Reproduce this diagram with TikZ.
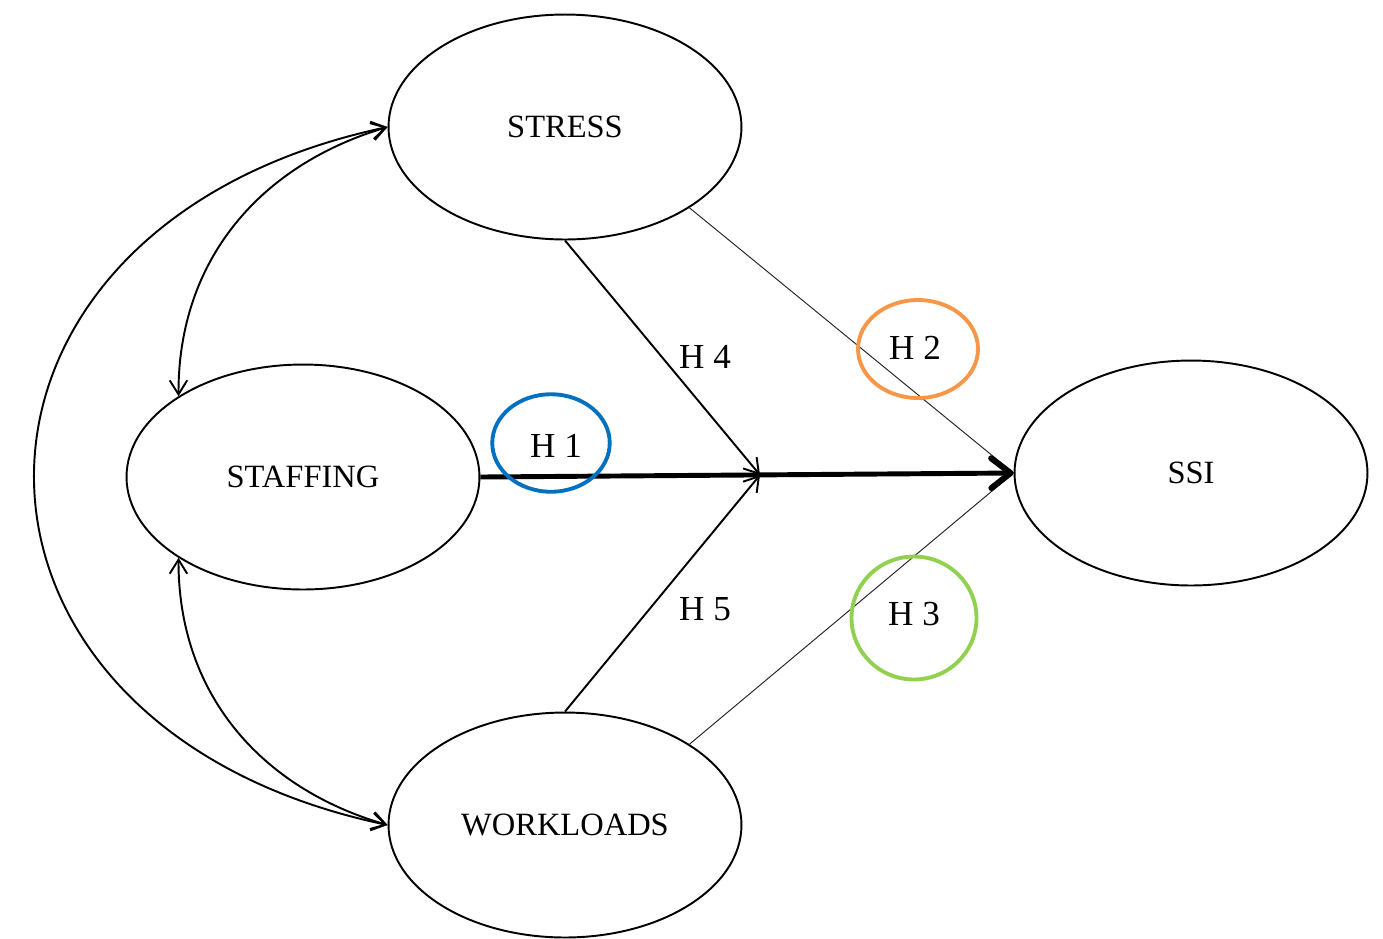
\documentclass[tikz,border=0pt]{standalone}
\usepackage{fontspec}
\setmainfont{Liberation Serif}
\usetikzlibrary{arrows.meta,shapes.geometric}
\begin{document}
\begin{tikzpicture}[x=0.02cm,y=-0.02cm,
  construct/.style={draw,ellipse,line width=1.1pt,inner sep=0pt,
    minimum width=7.06cm,minimum height=4.5cm,font=\fontsize{18.5}{22}\selectfont},
  hlabel/.style={inner sep=0pt,font=\fontsize{20}{24}\selectfont},
  ring/.style={draw,ellipse,line width=2.2pt,inner sep=0pt},
  tip/.style={-{Straight Barb[length=8pt,width=10pt]}},
  bidir/.style={{Straight Barb[length=8pt,width=10pt]}-{Straight Barb[length=8pt,width=10pt]}},
  midline/.style={line width=1.1pt},
  thinline/.style={line width=0.55pt,black!85},
  thickline/.style={line width=2.8pt,-{Straight Barb[length=11pt,width=17pt,round,line width=3.4pt]}}]
\useasboundingbox (0,0) rectangle (1383,938);
\node[construct] (stress) at (565,127) {STRESS};
\node[construct] (staffing) at (303,477) {STAFFING};
\node[construct] (ssi) at (1191,473) {SSI};
\node[construct] (workloads) at (565,825) {WORKLOADS};
\coordinate (mid) at (760,475);
% thin paths H2, H3
\draw[thinline] (stress.-33) -- (ssi.west);
\draw[thinline] (workloads.33) -- (ssi.west);
% H4, H5
\draw[midline,tip] (stress.south) -- (mid);
\draw[midline,tip] (workloads.north) -- (mid);
% H1 thick
\draw[thickline] (staffing.east) -- (ssi.west);
% covariance curves
\draw[midline,bidir] (stress.west) .. controls (-83,227) and (-83,726) .. (workloads.west);
\draw[midline,bidir] (stress.west) .. controls (260,165) and (178,260) .. (staffing.147);
\draw[midline,bidir] (staffing.-147) .. controls (178,693) and (260,788) .. (workloads.west);
% labels
\node[hlabel] (h4) at (705,357) {H 4};
\node[hlabel] (h5) at (705,609) {H 5};
\node[hlabel] (h1) at (556,446) {H 1};
\node[hlabel] (h2) at (915,348) {H 2};
\node[hlabel] (h3) at (914,614) {H 3};
% rings
\definecolor{ringblue}{RGB}{0,112,192}
\definecolor{ringorange}{RGB}{247,150,70}
\definecolor{ringgreen}{RGB}{146,208,80}
\node[ring,draw=ringblue,minimum width=2.35cm,minimum height=1.95cm] (c1) at (551,443) {};
\node[ring,draw=ringorange,minimum width=2.4cm,minimum height=1.96cm] (c2) at (918,349) {};
\node[ring,draw=ringgreen,minimum width=2.5cm,minimum height=2.46cm] (c3) at (914,618) {};
\end{tikzpicture}
\end{document}
